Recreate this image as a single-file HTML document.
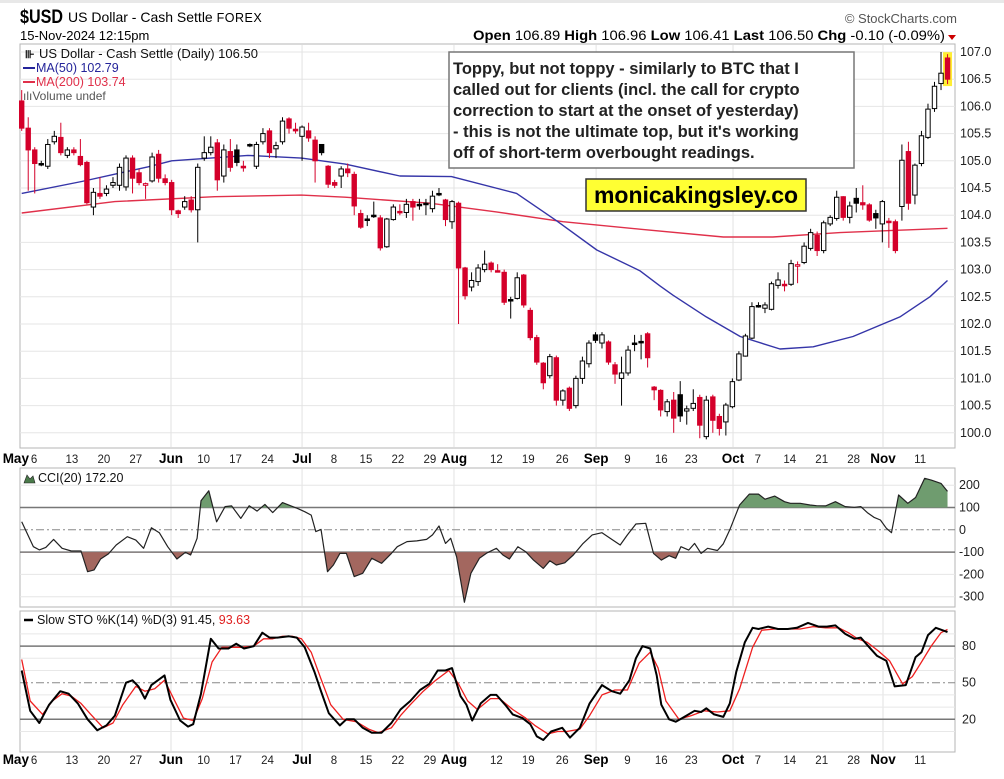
<!DOCTYPE html>
<html><head><meta charset="utf-8"><style>
body{margin:0;background:#fff;}
svg text{font-family:"Liberation Sans",Arial,sans-serif;}
</style></head><body>
<svg id="chart" width="1004" height="774" viewBox="0 0 1004 774" xmlns="http://www.w3.org/2000/svg">
<rect x="0" y="0" width="1004" height="774" fill="#fff"/>
<rect x="0" y="0" width="1004" height="3" fill="#e8e8e8"/>
<g>
<text x="20" y="23" font-size="19" font-weight="bold" textLength="43" lengthAdjust="spacingAndGlyphs">$USD</text>
<text x="68" y="22" font-size="14">US Dollar - Cash Settle <tspan font-size="12.5" letter-spacing="0.5">FOREX</tspan></text>
<text x="20" y="40" font-size="13">15-Nov-2024 12:15pm</text>
<text x="957" y="23" font-size="13" fill="#555" text-anchor="end">© StockCharts.com</text>
<text x="945" y="40" font-size="13.5" text-anchor="end" textLength="472" lengthAdjust="spacingAndGlyphs"><tspan font-weight="bold">Open</tspan> 106.89 <tspan font-weight="bold">High</tspan> 106.96 <tspan font-weight="bold">Low</tspan> 106.41 <tspan font-weight="bold">Last</tspan> 106.50 <tspan font-weight="bold">Chg</tspan> -0.10 (-0.09%)</text>
<path d="M948 35 L956 35 L952 40 Z" fill="#c00"/>
</g>
<g id="price"></g>
<g id="cci"></g>
<g id="sto"></g>
<g id="axes"></g>
</svg>
<script>
const open=[106.1,105.6,105.2,104.95,104.9,105.35,105.43,105.1,105.2,105.08,104.97,104.15,104.4,104.4,104.55,104.55,104.52,105.05,104.78,104.55,104.63,105.12,104.67,104.6,104.08,104.15,104.28,104.1,105.05,105.15,105.33,104.72,105.17,105.2,104.9,105.3,104.9,105.35,105.55,105.22,105.35,105.77,105.58,105.45,105.55,105.38,105.3,104.9,104.6,104.72,104.85,104.75,104.03,103.93,104.0,103.95,103.42,103.92,104.07,104.05,104.25,104.2,104.22,104.12,104.4,104.28,103.88,104.22,103.03,102.68,102.78,103.0,103.12,102.98,102.95,102.45,102.47,102.9,102.25,101.75,101.28,101.05,101.38,100.6,100.82,100.5,101.0,101.27,101.8,101.65,101.67,101.25,101.0,101.1,101.65,101.68,101.82,100.84,100.78,100.39,100.6,100.7,100.4,100.45,100.65,99.93,100.66,100.3,100.2,100.48,100.97,101.41,101.74,102.34,102.29,102.27,102.71,102.73,102.73,103.07,103.13,103.39,103.63,103.35,103.84,103.94,104.34,103.96,104.31,104.23,104.19,104.03,103.84,103.89,103.88,104.16,105.17,104.37,104.95,105.43,105.96,106.42,106.89];
const close=[105.6,105.2,104.95,104.95,105.3,105.45,105.15,105.2,105.15,104.93,104.23,104.42,104.35,104.48,104.6,104.88,105.05,104.68,104.6,104.58,105.07,104.68,104.6,104.1,104.03,104.25,104.1,104.88,105.15,105.25,104.65,105.2,104.88,104.97,104.87,105.28,105.3,105.5,105.15,105.28,105.73,105.6,105.55,105.62,105.42,105.0,105.15,104.57,104.55,104.85,104.78,104.17,103.78,103.93,104.0,103.4,103.93,104.15,104.05,104.2,104.15,104.18,104.2,104.35,104.4,103.92,104.25,103.03,102.52,102.8,103.03,103.1,103.0,102.98,102.4,102.45,102.85,102.35,101.75,101.3,100.92,101.4,100.6,100.77,100.45,101.0,101.32,101.65,101.7,101.8,101.3,101.08,101.1,101.52,101.65,101.68,101.38,100.79,100.42,100.57,100.27,100.31,100.44,100.54,100.14,100.6,100.23,100.08,100.51,100.94,101.45,101.78,102.32,102.34,102.35,102.74,102.81,102.72,103.11,103.09,103.43,103.68,103.35,103.86,103.96,104.33,103.96,104.17,104.22,104.19,103.91,103.95,104.25,103.88,103.35,105.01,104.22,104.92,105.46,105.95,106.37,106.61,106.5];
const high=[106.3,105.8,105.25,105.0,105.4,105.55,105.7,105.25,105.25,105.4,105.0,104.5,104.7,104.55,104.7,104.95,105.1,105.1,104.85,104.6,105.15,105.2,104.75,104.65,104.1,104.35,104.35,104.95,105.45,105.45,105.4,105.3,105.4,105.3,105.0,105.32,105.35,105.6,105.6,105.35,105.8,105.8,105.7,105.65,105.7,105.45,105.3,104.92,104.65,104.9,104.95,104.8,104.1,104.0,104.25,104.0,103.95,104.2,104.2,104.3,104.3,104.3,104.3,104.45,104.5,104.3,104.28,104.25,103.05,102.95,103.1,103.35,103.15,103.1,103.0,102.5,102.95,102.92,102.3,101.8,101.3,101.45,101.42,100.8,100.85,101.05,101.4,101.7,101.85,101.85,101.7,101.3,101.4,101.6,101.8,101.8,101.85,100.86,100.8,100.62,100.75,100.95,100.5,100.8,100.7,100.68,100.7,100.35,100.55,101.0,101.5,101.82,102.4,102.4,102.4,102.78,102.95,102.8,103.18,103.15,103.5,103.75,103.7,103.9,104.0,104.45,104.35,104.25,104.5,104.55,104.22,104.1,104.28,103.95,103.92,105.3,105.35,104.95,105.55,106.05,106.45,107.0,106.96];
const low=[105.55,104.45,104.4,104.9,104.85,105.3,105.1,105.05,105.1,104.9,104.2,104.0,104.3,104.35,104.5,104.45,104.45,104.4,104.55,104.3,104.6,104.6,104.55,104.0,103.95,104.1,104.05,103.5,105.0,105.1,104.45,104.6,104.8,104.9,104.8,105.25,104.85,105.3,105.05,105.05,105.3,105.5,105.5,105.0,105.35,104.6,105.1,104.5,104.5,104.5,104.7,104.0,103.75,103.8,103.95,103.35,103.4,103.9,104.0,103.95,103.9,104.1,104.0,104.05,104.35,103.8,103.75,102.0,102.45,102.6,102.7,102.95,102.95,102.95,102.35,102.1,102.45,102.3,101.7,101.25,100.8,101.0,100.5,100.5,100.4,100.45,100.9,101.2,101.65,101.55,101.25,100.9,100.5,101.05,101.5,101.35,101.2,100.6,100.3,100.3,100.0,100.2,100.15,100.4,99.9,99.88,100.0,99.95,99.95,100.45,100.95,101.4,101.72,102.3,102.2,102.25,102.65,102.6,102.7,102.75,103.1,103.35,103.25,103.3,103.8,103.9,103.9,103.85,104.05,104.1,103.88,103.75,103.5,103.4,103.3,103.9,104.1,104.2,104.9,105.4,105.9,106.3,106.41];
const ma50Idx=[0,9.2,19.4,23,34.7,42.9,49.6,58,65.9,75.9,82,88.2,94.8,97.9,99.9,105,110.2,116.3,121.4,127.5,134.7,139.3,142];
const ma50Val=[104.40,104.62,104.89,105.0,105.1,105.05,104.94,104.72,104.71,104.4,103.9,103.36,102.98,102.7,102.53,102.13,101.77,101.54,101.58,101.77,102.13,102.5,102.8];
const ma200Idx=[0,14.3,29.6,42.9,49.6,62.6,72.8,83,95,107.6,115.2,125.5,135.7,142];
const ma200Val=[104.04,104.25,104.34,104.37,104.33,104.22,104.06,103.88,103.74,103.6,103.6,103.68,103.73,103.76];
const priceTicks=[107.0,106.5,106.0,105.5,105.0,104.5,104.0,103.5,103.0,102.5,102.0,101.5,101.0,100.5,100.0];
const cciIdx=[0,1.8,2.7,3.7,4.9,6.2,7.6,9.1,10.1,11.1,12.1,13.3,14.5,16.2,17.5,18.7,19.9,21.1,22.4,23.8,25.1,25.9,26.9,27.5,28.7,29.9,31.2,32.2,33.6,34.9,36.1,37.3,38.5,40,41.3,42.3,43.4,44.4,45.1,45.9,46.9,47.8,48.8,49.8,51,52.3,53.7,55.2,56.7,57.6,59.1,60.6,62.1,63,64,65,65.8,66.7,67.9,68.9,70.2,71.4,72.8,73.8,74.8,76.1,77.3,78.5,80,81,82,83.3,84.6,86.1,87.5,89,90.5,91.8,92.9,94.2,95.7,96.9,98.1,99.3,100.3,101.1,102.3,103.2,104.2,105.2,106.7,107.6,108.6,110.1,111.6,113,114,115.5,117,117.9,119.4,120.9,121.9,123.3,124.8,126.3,127.7,128.7,129.7,130.7,131.7,132.6,133.4,134.5,135.9,137.1,138.5,139.5,141,142];
const cciVal=[36,-76,-90,-79,-43,-83,-95,-95,-188,-180,-131,-108,-68,-31,-46,-83,9,-13,-76,-131,-101,-113,-38,130,175,36,104,107,51,108,84,114,77,122,107,96,81,66,-8,2,-188,-158,-106,-106,-210,-195,-128,-150,-106,-76,-53,-50,-43,-23,17,-61,-38,-121,-325,-195,-128,-103,-83,-113,-131,-76,-98,-136,-173,-139,-158,-148,-113,-61,-23,-13,-43,-68,-23,26,29,-106,-136,-116,-128,-76,-91,-61,-106,-83,-93,-63,0,111,160,160,137,151,126,119,119,111,108,107,126,104,101,104,77,56,44,7,-13,156,119,145,231,223,208,172];
const cciTicks=[200,100,0,-100,-200,-300];
const kIdx=[0,1.3,2.7,4.2,5.9,7.2,8.6,10.1,11.6,13,14.3,16,17,17.9,18.9,19.9,21.9,22.8,24.3,25.5,26.3,27.5,29,30.2,31.7,32.9,34.1,35.6,36.9,38,39.2,41,42.2,43.4,44.9,45.9,47.1,48.8,49.8,51,52.3,53.7,55.2,56.7,58.1,59.6,61.1,62.5,63.8,65,66,67.3,68.2,69.1,70.4,71.9,72.8,74.3,75.3,76.8,78,79,80,81.2,82.9,84.1,85.6,87.1,89,90.5,91.8,93.2,94.2,95.2,96.4,97.4,98.1,99.3,100.3,101.3,103.2,104.2,105,106.2,107.6,108.6,109.6,110.9,112.1,113,114.5,116,117.5,118.9,120.6,122.2,123.5,124.8,126.3,127.7,128.7,130,131.2,132.6,133.9,135.6,137.1,138,139,140.2,142];
const kVal=[60,27,17,32,43,41,33,20,11,15,23,50,52,47,37,48,56,36,19,14,16,41,86,78,78,82,78,80,91,87,87,88,87,79,59,43,25,15,20,20,13,9,9,17,28,35,44,49,60,60,62,39,32,19,33,40,40,31,24,21,16,6,3,10,13,5,13,33,48,43,41,52,70,80,78,56,32,20,18,21,27,26,29,24,22,33,59,83,95,94,96,94,94,95,99,96,96,97,90,86,87,79,72,68,47,48,71,75,89,95,91.45];
const dIdx=[0,1.3,3.2,4.7,6.2,7.6,9.1,10.6,12.5,14,15.5,17.5,18.9,20.4,21.9,23.3,24.8,26.3,27.7,29.2,30.7,32.2,33.6,35.6,37.1,38.5,40,41.5,42.9,44.4,45.9,47.4,49.3,51.3,53.2,54.7,56.7,58.1,59.6,61.6,63.5,65.5,67,68.4,69.9,71.9,73.3,75.3,77.3,78.7,80.7,82.2,83.6,85.6,87.1,89,91,92.9,94.7,96.4,97.6,98.8,100.8,102.7,104.7,106.7,108.6,110.1,112.1,113.5,115.5,117.5,119.4,121.4,123.3,125.3,126.8,128.2,129.7,131.4,133.1,135.1,136.6,138,139.5,141,142];
const dVal=[69,35,24,35,41,39,33,24,13,17,32,47,43,45,52,37,21,19,37,67,79,79,79,80,86,86,88,88,86,75,53,32,20,18,12,9,13,23,32,43,52,60,49,35,28,37,37,28,21,15,8,10,10,12,23,40,44,44,66,75,62,35,20,23,27,26,27,45,79,93,94,94,94,96,95,95,91,86,83,76,68,49,55,67,80,91,93.63];
const stoTicks=[80,50,20];
const dayLabels=["6","13","20","27","10","17","24","8","15","22","29","12","19","26","9","16","23","7","14","21","28","11"];
const dayLabelIdx=[1.9,7.7,12.6,17.5,27.9,32.8,37.7,47.9,52.8,57.7,62.6,72.8,77.7,82.9,92.9,98.1,102.7,112.9,117.8,122.7,127.6,137.8];
const monthLabels=["May","Jun","Jul","Aug","Sep","Oct","Nov"];
const monthIdx=[-0.9,22.9,43,66.3,88.1,109.1,132.1];

const NS="http://www.w3.org/2000/svg";
function mk(tag,attrs,parent){const e=document.createElementNS(NS,tag);for(const k in attrs)e.setAttribute(k,attrs[k]);parent.appendChild(e);return e;}
const L=20,R=955;
const X=i=>21.7+6.52*i;
const PY=p=>52+(107-p)*54.4;
const CY=v=>529.8-v*0.223;
const SY=v=>682.7-(v-50)*1.22;
const gP=document.getElementById('price'),gC=document.getElementById('cci'),gS=document.getElementById('sto'),gA=document.getElementById('axes');

function vgrid(g,y0,y1){monthIdx.slice(1).forEach(m=>{const l=mk('line',{x1:X(m),x2:X(m),y1:y0,y2:y1,stroke:'#e2e2e2'},g);});}

let fr=mk('rect',{x:L,y:44,width:R-L,height:404,fill:'#fff',stroke:'#b5b5b5'},gP);

priceTicks.forEach(p=>{const y=PY(p);
 const l=mk('line',{x1:L,x2:R,y1:y,y2:y,stroke:'#e6e6e6'},gP);
 const t=mk('text',{x:960,y:y+4,'font-size':12.5,fill:'#222'},gP);t.textContent=p.toFixed(1);});
vgrid(gP,45,447);
const li=close.length-1;
let hl=mk('rect',{x:X(li)-4.5,y:PY(high[li])-2,width:9,height:PY(low[li])-PY(high[li])+4,fill:'#ffee33'},gP);

function line(g,idx,val,xf,yf,col,w,name){const d=idx.map((i,k)=>(k?'L':'M')+xf(i).toFixed(1)+' '+yf(val[k]).toFixed(1)).join(' ');const p=mk('path',{d:d,fill:'none',stroke:col,'stroke-width':w,'stroke-linejoin':'round'},g);return d;}
line(gP,ma200Idx,ma200Val,X,PY,'#e0304a',1.4,'ma200-line');
line(gP,ma50Idx,ma50Val,X,PY,'#3535a8',1.4,'ma50-line');
for(let i=0;i<close.length;i++){
 const o=open[i],c=close[i];const prev=i?close[i-1]:o;
 const col=c<prev?'#d4002a':'#000';const x=X(i);
 const w=mk('line',{x1:x,x2:x,y1:PY(high[i]),y2:PY(low[i]),stroke:col,'stroke-width':1},gP);
 
 const top=PY(Math.max(o,c)),bh=Math.max(1.5,Math.abs(PY(o)-PY(c)));
 const hollow=c>o;
 const b=mk('rect',{x:x-2.2,y:top,width:4.4,height:bh,fill:hollow?'#fff':col,stroke:col,'stroke-width':1},gP);
 
}
const lg=mk('g',{},gP);
let t;
t=mk('text',{x:39,y:58,'font-size':13,fill:'#111'},lg);t.textContent='US Dollar - Cash Settle (Daily) 106.50';
t=mk('text',{x:25,y:58,'font-size':11,'font-weight':'bold'},lg);t.textContent='⊪';
mk('line',{x1:23,x2:35,y1:68,y2:68,stroke:'#24249a','stroke-width':2},lg);
t=mk('text',{x:36,y:72,'font-size':12.5,fill:'#24249a'},lg);t.textContent='MA(50) 102.79';
mk('line',{x1:23,x2:35,y1:82,y2:82,stroke:'#e0304a','stroke-width':2},lg);
t=mk('text',{x:36,y:86,'font-size':12.5,fill:'#e0304a'},lg);t.textContent='MA(200) 103.74';
t=mk('text',{x:23,y:100,'font-size':12,fill:'#555'},lg);t.textContent='ılıVolume undef';

const an=mk('g',{},gP);
mk('rect',{x:449,y:52,width:405,height:116,fill:'#fff',stroke:'#777','stroke-width':1.5},an);
['Toppy, but not toppy - similarly to BTC that I','called out for clients (incl. the call for crypto','correction to start at the onset of yesterday)','- this is not the ultimate top, but it\'s working','off of short-term overbought readings.'].forEach((s,k)=>{const tt=mk('text',{x:453,y:74+k*21,'font-size':16.5,'font-weight':'bold',fill:'#222'},an);tt.textContent=s;});
const yb=mk('g',{},gP);
mk('rect',{x:586,y:179,width:220,height:32,fill:'#ffff33',stroke:'#333','stroke-width':1.5},yb);
t=mk('text',{x:696,y:203,'font-size':23,'font-weight':'bold','text-anchor':'middle',fill:'#000'},yb);t.textContent='monicakingsley.co';

function dateAxis(y,name){const g=mk('g',{},gA);
 dayLabels.forEach((s,k)=>{const tt=mk('text',{x:X(dayLabelIdx[k]),y:y,'font-size':11.5,'text-anchor':'middle',fill:'#222'},g);tt.textContent=s;});
 monthLabels.forEach((s,k)=>{const tt=mk('text',{x:X(monthIdx[k]),y:y,'font-size':13.5,'font-weight':'bold','text-anchor':'middle',fill:'#000'},g);tt.textContent=s;});}
dateAxis(463,'date-axis-top');dateAxis(764,'date-axis-bottom');

fr=mk('rect',{x:L,y:468,width:R-L,height:139,fill:'#fff',stroke:'#b5b5b5'},gC);
vgrid(gC,469,606);
cciTicks.forEach(v=>{const y=CY(v);
 const l=mk('line',{x1:L,x2:R,y1:y,y2:y,stroke:(v===100||v===-100)?'#777':(v===0?'#888':'#e6e6e6'),'stroke-width':(v===100||v===-100)?1.5:1,'stroke-dasharray':v===0?'8 3 2 3':'none'},gC);
 
 const tt=mk('text',{x:959,y:y+4,'font-size':12.5,fill:'#222'},gC);tt.textContent=(v>0?' ':'')+v;});
const defs=mk('defs',{},document.getElementById('chart'));
mk('rect',{x:L,y:0,width:R-L,height:CY(100)},mk('clipPath',{id:'cUp'},defs));
mk('rect',{x:L,y:CY(-100),width:R-L,height:200},mk('clipPath',{id:'cDn'},defs));
const cd=cciIdx.map((i,k)=>(k?'L':'M')+X(i).toFixed(1)+' '+CY(cciVal[k]).toFixed(1)).join(' ');
const x0=X(cciIdx[0]),x1=X(cciIdx[cciIdx.length-1]);
let a=mk('path',{d:cd+` L${x1} ${CY(100)} L${x0} ${CY(100)} Z`,fill:'#6f9c6f','clip-path':'url(#cUp)'},gC);
a=mk('path',{d:cd+` L${x1} ${CY(-100)} L${x0} ${CY(-100)} Z`,fill:'#a3675f','clip-path':'url(#cDn)'},gC);
line(gC,cciIdx,cciVal,X,CY,'#222',1.2,'cci-line');
t=mk('text',{x:38,y:482,'font-size':12.5,fill:'#111'},gC);t.textContent='CCI(20) 172.20';
mk('path',{d:'M24 483 L27 475 L30 479 L33 476 L35 483 Z',fill:'#4a7a4a',stroke:'#222','stroke-width':0.6},gC);

fr=mk('rect',{x:L,y:611,width:R-L,height:141,fill:'#fff',stroke:'#b5b5b5'},gS);
vgrid(gS,612,751);
[90,70,60,40,30,10].forEach(v=>{const l=mk('line',{x1:L,x2:R,y1:SY(v),y2:SY(v),stroke:'#e8e8e8'},gS);});
stoTicks.forEach(v=>{const y=SY(v);
 const l=mk('line',{x1:L,x2:R,y1:y,y2:y,stroke:v===50?'#888':'#777','stroke-width':v===50?1:1.5,'stroke-dasharray':v===50?'8 3 2 3':'none'},gS);
 const tt=mk('text',{x:962,y:y+4,'font-size':12.5,fill:'#222'},gS);tt.textContent=v;});
line(gS,dIdx,dVal,X,SY,'#ee2020',1.3,'sto-d-line');
line(gS,kIdx,kVal,X,SY,'#000',2,'sto-k-line');
mk('line',{x1:24,x2:33,y1:620,y2:620,stroke:'#000','stroke-width':2.5},gS);
t=mk('text',{x:37,y:624,'font-size':12.5,fill:'#111'},gS);
t.innerHTML='Slow STO %K(14) %D(3) 91.45, <tspan fill="#e02020">93.63</tspan>';
</script>
</body></html>
